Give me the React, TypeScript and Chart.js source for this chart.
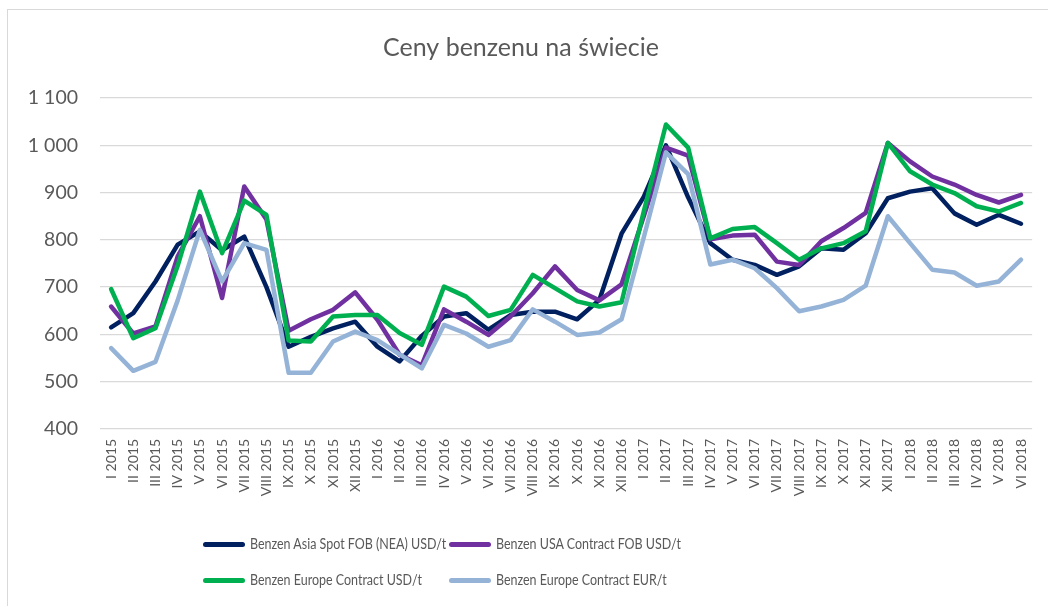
import React, { useEffect, useRef } from "react";
import { Chart, registerables } from "chart.js";

Chart.register(...registerables);

const title = "Ceny benzenu na świecie";

const months = ["I", "II", "III", "IV", "V", "VI", "VII", "VIII", "IX", "X", "XI", "XII"];
const labels: string[] = [
  ...months.map((m) => `${m} 2015`),
  ...months.map((m) => `${m} 2016`),
  ...months.map((m) => `${m} 2017`),
  ...months.slice(0, 6).map((m) => `${m} 2018`),
];

const seriesNames = [
  "Benzen Asia Spot FOB (NEA) USD/t",
  "Benzen USA Contract FOB USD/t",
  "Benzen Europe Contract USD/t",
  "Benzen Europe Contract EUR/t",
];

const seriesColors = ["#002060", "#7030A0", "#00B050", "#95B3D7"];

const asiaSpot = [
  615, 645, 712, 790, 818, 778, 807, 700, 574, 595, 613, 627,
  574, 543, 597, 638, 645, 610, 641, 648, 648, 632, 673, 813,
  891, 1000, 890, 793, 758, 747, 726, 744, 782, 779, 814, 888,
  902, 909, 856, 832, 853, 834,
];

const usaContract = [
  659, 602, 617, 765, 850, 677, 913, 843, 608, 632, 652, 689,
  631, 557, 535, 653, 627, 599, 638, 687, 744, 694, 672, 706,
  850, 995, 978, 801, 809, 811, 754, 747, 797, 825, 857, 1005,
  966, 934, 917, 895, 879, 895,
];

const europeUsd = [
  696, 592, 613, 745, 902, 772, 883, 853, 587, 585, 638, 641,
  641, 603, 578, 701, 680, 639, 652, 726, 698, 670, 659, 668,
  860, 1044, 995, 803, 823, 827, 793, 758, 782, 793, 818, 1005,
  945, 917, 899, 871, 860, 878,
];

const europeEur = [
  571, 523, 542, 672, 821, 712, 793, 779, 519, 519, 585, 606,
  588, 558, 528, 620, 602, 574, 588, 653, 627, 599, 604, 632,
  805, 985, 939, 748, 758, 740, 698, 649, 659, 673, 703, 850,
  793, 737, 731, 703, 712, 758,
];

const yMin = 400;
const yMax = 1100;
const yStep = 100;

const FONT = "Lato, 'Open Sans', 'DejaVu Sans', sans-serif";
const TEXT_COLOR = "#595959";

function formatThousands(v: number): string {
  return String(v).replace(/\B(?=(\d{3})+(?!\d))/g, " ");
}

export default function App() {
  const canvasRef = useRef<HTMLCanvasElement | null>(null);

  useEffect(() => {
    if (!canvasRef.current) return;
    const allSeries = [asiaSpot, usaContract, europeUsd, europeEur];
    const chart = new Chart(canvasRef.current, {
      type: "line",
      data: {
        labels,
        datasets: allSeries.map((d, i) => ({
          label: seriesNames[i],
          data: d,
          borderColor: seriesColors[i],
          backgroundColor: seriesColors[i],
          borderWidth: 4.5,
          pointRadius: 0,
          pointHoverRadius: 0,
          tension: 0,
          fill: false,
          borderJoinStyle: "round" as const,
          borderCapStyle: "round" as const,
          order: 4 - i,
        })),
      },
      options: {
        animation: false,
        responsive: false,
        maintainAspectRatio: false,
        layout: { padding: { top: 0, left: 0, right: 14, bottom: 0 } },
        plugins: {
          legend: { display: false },
          tooltip: { enabled: false },
          title: {
            display: true,
            text: title,
            color: TEXT_COLOR,
            font: { family: FONT, size: 25, weight: "normal" },
            padding: { top: 23, bottom: 35 },
          },
        },
        scales: {
          x: {
            offset: true,
            grid: { display: false, drawTicks: false },
            border: { display: false },
            ticks: {
              color: TEXT_COLOR,
              font: { family: FONT, size: 14 },
              minRotation: 90,
              maxRotation: 90,
              autoSkip: false,
              padding: 10,
            },
            afterFit: (scale: any) => {
              scale.height = 177;
            },
          },
          y: {
            min: yMin,
            max: yMax,
            grid: { color: "#d9d9d9", lineWidth: 1.3, drawTicks: false },
            border: { display: false },
            ticks: {
              stepSize: yStep,
              color: TEXT_COLOR,
              font: { family: FONT, size: 19.5 },
              padding: 22,
              callback: (v: any) => formatThousands(Number(v)),
            },
            afterFit: (scale: any) => {
              scale.width = 92;
            },
          },
        },
      },
    });
    return () => chart.destroy();
  }, []);

  const legendItem = (i: number, lineLeft: number, top: number) => (
    <div key={i}>
      <div
        style={{
          position: "absolute",
          left: lineLeft,
          top: top - 2.5,
          width: 42,
          height: 5,
          borderRadius: 3,
          background: seriesColors[i],
        }}
      />
      <div
        style={{
          position: "absolute",
          left: lineLeft + 47,
          top: top - 10,
          height: 20,
          lineHeight: "20px",
          fontFamily: FONT,
          fontSize: 14.5,
          color: TEXT_COLOR,
          whiteSpace: "nowrap",
          transform: "scaleX(0.86)",
          transformOrigin: "left center",
        }}
      >
        {seriesNames[i]}
      </div>
    </div>
  );

  // positions relative to the container content box (page x - 8, page y - 10)
  return (
    <div
      style={{
        position: "absolute",
        left: 7,
        top: 9,
        width: 1040,
        height: 596,
        borderTop: "1px solid #d9d9d9",
        borderLeft: "1px solid #d9d9d9",
        background: "#ffffff",
        overflow: "hidden",
      }}
    >
      <canvas ref={canvasRef} width={1040} height={596} style={{ display: "block" }} />
      {legendItem(0, 195, 534)}
      {legendItem(1, 441, 534)}
      {legendItem(2, 195, 570)}
      {legendItem(3, 441, 570)}
    </div>
  );
}
